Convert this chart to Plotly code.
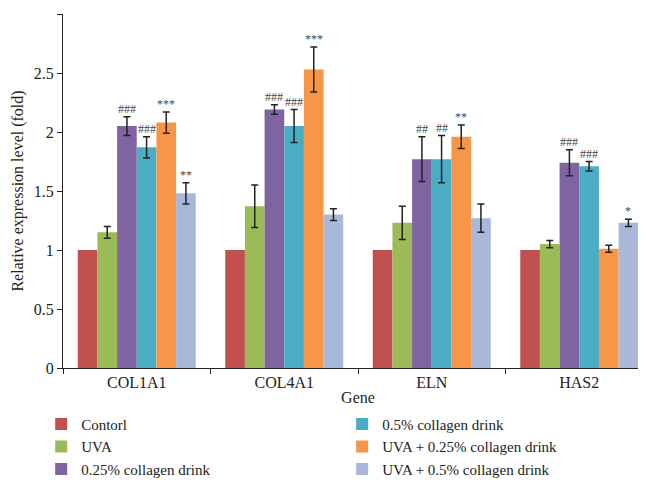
import plotly.graph_objects as go

genes = ["COL1A1", "COL4A1", "ELN", "HAS2"]
series_names = ["Contorl", "UVA", "0.25% collagen drink", "0.5% collagen drink",
                "UVA + 0.25% collagen drink", "UVA + 0.5% collagen drink"]
contorl = [1.0, 1.0, 1.0, 1.0]
uva = [1.15, 1.37, 1.23, 1.05]
c025 = [2.05, 2.19, 1.77, 1.74]
c05 = [1.87, 2.05, 1.77, 1.71]
uva_c025 = [2.08, 2.53, 1.96, 1.01]
uva_c05 = [1.48, 1.30, 1.27, 1.23]

contorl_err = [0, 0, 0, 0]
uva_err = [0.05, 0.18, 0.14, 0.03]
c025_err = [0.08, 0.04, 0.19, 0.11]
c05_err = [0.09, 0.14, 0.20, 0.04]
uva_c025_err = [0.09, 0.19, 0.10, 0.03]
uva_c05_err = [0.09, 0.05, 0.12, 0.03]

contorl_sig = ["", "", "", ""]
uva_sig = ["", "", "", ""]
c025_sig = ["###", "###", "##", "###"]
c05_sig = ["###", "###", "##", "###"]
uva_c025_sig = ["***", "***", "**", ""]
uva_c05_sig = ["**", "", "", "*"]

values = [contorl, uva, c025, c05, uva_c025, uva_c05]
errors = [contorl_err, uva_err, c025_err, c05_err, uva_c025_err, uva_c05_err]
sigs = [contorl_sig, uva_sig, c025_sig, c05_sig, uva_c025_sig, uva_c05_sig]
colors = ["#C0504D", "#9BBB59", "#8064A2", "#4BACC6", "#F79646", "#A9B8D9"]
legend_ranks = [1, 3, 5, 2, 4, 6]

FONT = "Liberation Serif"
bargap = 0.2
n = len(series_names)

fig = go.Figure()
for j in range(n):
    err = errors[j]
    show_err = any(e > 0 for e in err)
    fig.add_trace(go.Bar(
        x=genes, y=values[j], name=series_names[j],
        marker=dict(color=colors[j], line=dict(width=0)),
        legendrank=legend_ranks[j],
        error_y=dict(type="data", array=err, visible=show_err,
                     color="#222222", thickness=1.5, width=3.5),
    ))

annotations = []
w = (1 - bargap) / n
for j in range(n):
    for i in range(len(genes)):
        s = sigs[j][i]
        if s:
            annotations.append(dict(
                x=i + (j - (n - 1) / 2) * w, y=values[j][i] + errors[j][i],
                xref="x", yref="y", text=s, showarrow=False,
                yanchor="bottom", yshift=-1,
                font=dict(family=FONT, size=12, color="#444444"),
            ))

fig.update_layout(
    width=646, height=480,
    margin=dict(l=55, r=1, t=6, b=120, autoexpand=False),
    paper_bgcolor="white", plot_bgcolor="white",
    barmode="group", bargap=bargap, bargroupgap=0,
    font=dict(family=FONT, size=16, color="#222222"),
    annotations=annotations,
    legend=dict(orientation="h", x=-0.037, xanchor="left",
                y=-0.112, yanchor="top",
                entrywidth=256, font=dict(family=FONT, size=15, color="#222222"),
                traceorder="normal", itemwidth=30),
    xaxis=dict(showline=True, linecolor="#222222", linewidth=1,
               ticks="outside", tickson="boundaries", ticklen=5, tickcolor="#222222",
               tickfont=dict(size=16),
               title=dict(text="Gene", font=dict(size=16), standoff=1)),
    yaxis=dict(range=[0, 3], dtick=0.5, showline=True, linecolor="#222222", linewidth=1,
               ticks="outside", ticklen=5, tickcolor="#222222", showgrid=False,
               zeroline=False, tickfont=dict(size=16),
               title=dict(text="Relative expression level (fold)", font=dict(size=16), standoff=6)),
)

fig.write_html("out.html")
